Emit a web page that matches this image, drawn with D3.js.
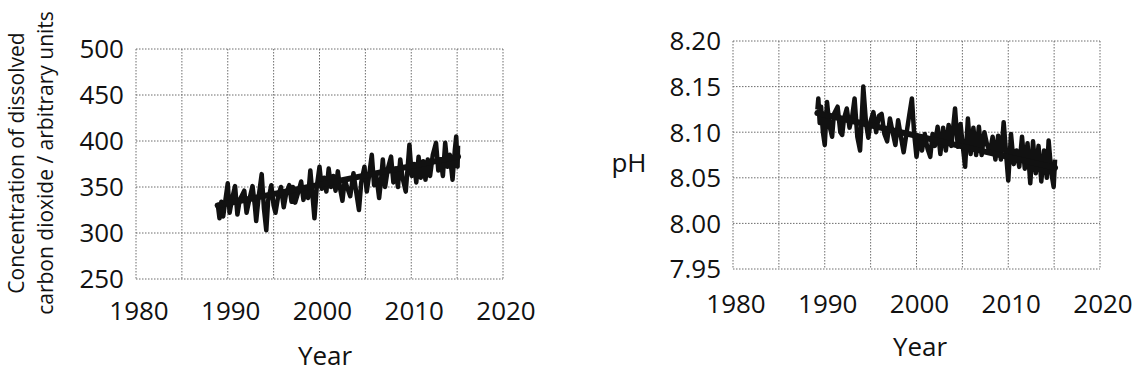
<!DOCTYPE html>
<html>
<head>
<meta charset="utf-8">
<script src="https://cdn.jsdelivr.net/npm/d3@7"></script>
<style>
  html, body { margin: 0; padding: 0; background: #fff; }
  svg text { font-family: "Open Sans", "Noto Sans", sans-serif; fill: #111; }
</style>
</head>
<body>
<svg id="chart" width="1142" height="383"></svg>
<script>
// Dissolved CO2 measurements (year, arbitrary units)
const co2Years = [1988.9,1989.1,1989.3,1989.5,1989.75,1990.0,1990.2,1990.45,1990.8,1991.05,1991.3,1991.8,1992.05,1992.3,1992.7,1992.95,1993.1,1993.35,1993.7,1993.95,1994.2,1994.4,1994.75,1995.0,1995.2,1995.5,1995.8,1996.1,1996.35,1996.7,1996.95,1997.1,1997.35,1997.7,1998.0,1998.25,1998.5,1998.75,1999.0,1999.2,1999.45,1999.7,2000.0,2000.25,2000.5,2000.75,2001.0,2001.25,2001.5,2001.75,2002.0,2002.25,2002.5,2002.75,2003.0,2003.35,2003.7,2003.95,2004.3,2004.55,2004.9,2005.15,2005.4,2005.7,2005.95,2006.2,2006.5,2006.75,2006.9,2007.15,2007.45,2007.8,2008.05,2008.3,2008.55,2008.8,2009.05,2009.4,2009.6,2009.8,2010.05,2010.3,2010.55,2010.8,2011.05,2011.3,2011.55,2011.8,2012.05,2012.35,2012.7,2012.95,2013.2,2013.45,2013.7,2013.95,2014.2,2014.5,2014.75,2014.9,2015.05,2015.1];
const co2Values = [332,316,334,318,336,354,322,336,351,320,336,346,322,334,351,330,313,338,364,326,303,335,352,330,322,340,350,328,342,352,334,350,333,345,356,336,348,338,368,345,316,350,372,348,360,345,370,350,362,346,367,348,335,358,350,340,365,348,325,355,372,345,362,385,352,362,338,362,380,350,370,383,355,370,350,380,360,345,370,396,362,375,355,383,360,378,358,380,362,385,398,368,380,362,398,372,385,358,390,405,372,395];
// Fitted trend of dissolved CO2 (start and end of the record)
const co2TrendYears = [1988.9, 2015.1];
const co2TrendValues = [330, 383];

// Seawater pH measurements
const phYears = [1989.2,1989.3,1989.45,1989.6,1989.8,1990.0,1990.25,1990.5,1990.8,1991.0,1991.4,1991.7,1991.9,1992.1,1992.4,1992.7,1993.0,1993.25,1993.55,1993.85,1994.2,1994.5,1994.75,1995.0,1995.3,1995.6,1995.9,1996.2,1996.5,1996.8,1997.1,1997.4,1997.7,1998.0,1998.3,1998.6,1998.9,1999.2,1999.5,1999.75,2000.0,2000.3,2000.6,2000.9,2001.2,2001.5,2001.75,2002.0,2002.3,2002.6,2002.9,2003.2,2003.5,2003.8,2004.2,2004.5,2004.8,2005.1,2005.3,2005.6,2005.9,2006.2,2006.5,2006.8,2007.1,2007.4,2007.7,2008.0,2008.3,2008.6,2008.9,2009.2,2009.5,2009.8,2010.0,2010.3,2010.6,2010.9,2011.2,2011.5,2011.8,2012.1,2012.4,2012.7,2013.0,2013.3,2013.6,2013.9,2014.2,2014.4,2014.7,2014.95,2015.1];
const phValues = [8.125,8.137,8.110,8.128,8.100,8.086,8.133,8.108,8.095,8.120,8.128,8.100,8.097,8.115,8.126,8.105,8.118,8.137,8.095,8.080,8.150,8.110,8.094,8.112,8.122,8.100,8.118,8.120,8.098,8.090,8.115,8.100,8.086,8.113,8.095,8.078,8.098,8.118,8.137,8.098,8.073,8.095,8.080,8.098,8.082,8.073,8.098,8.085,8.106,8.076,8.105,8.080,8.108,8.085,8.126,8.084,8.109,8.080,8.062,8.115,8.076,8.105,8.075,8.106,8.075,8.100,8.086,8.078,8.095,8.070,8.096,8.070,8.111,8.072,8.047,8.098,8.065,8.080,8.062,8.095,8.060,8.088,8.044,8.090,8.055,8.085,8.046,8.080,8.050,8.091,8.055,8.040,8.070];
const phTrendYears = [1989.2, 2015.1];
const phTrendValues = [8.121, 8.061];

// Axis ticks
const yearLabels = [1980, 1990, 2000, 2010, 2020];
const yearGrid = [1980, 1985, 1990, 1995, 2000, 2005, 2010, 2015, 2020];
const co2Ticks = [250, 300, 350, 400, 450, 500];
const phTicks = [7.95, 8.00, 8.05, 8.10, 8.15, 8.20];

const svg = d3.select("#chart");
svg.append("rect").attr("width", 1142).attr("height", 383).attr("fill", "#fff");

function panel(opt) {
  const x = d3.scaleLinear().domain([1980, 2020]).range([opt.left, opt.right]);
  const y = d3.scaleLinear().domain(opt.yDomain).range([opt.bottom, opt.top]);
  const g = svg.append("g");

  // dotted grid and frame
  const grid = g.append("g")
    .attr("stroke", "#6d6d6d")
    .attr("stroke-width", 1)
    .attr("stroke-dasharray", "1.5,1.5")
    .attr("fill", "none");
  grid.selectAll("line.v").data(yearGrid).join("line")
    .attr("x1", d => x(d)).attr("x2", d => x(d))
    .attr("y1", opt.top).attr("y2", opt.bottom);
  grid.selectAll("line.h").data(opt.ticks).join("line")
    .attr("class", "h")
    .attr("x1", opt.left).attr("x2", opt.right)
    .attr("y1", d => y(d)).attr("y2", d => y(d));

  // x tick labels
  g.append("g").selectAll("text").data(yearLabels).join("text")
    .attr("x", d => x(d) + 3)
    .attr("y", opt.xLabelY)
    .attr("text-anchor", "middle")
    .attr("font-size", 26)
    .text(d => d);

  // y tick labels
  g.append("g").selectAll("text").data(opt.ticks).join("text")
    .attr("x", opt.left - 12)
    .attr("y", d => y(d))
    .attr("dy", "0.36em")
    .attr("text-anchor", "end")
    .attr("font-size", 26)
    .text(opt.fmt);

  // measurement series
  const line = d3.line().x(d => x(d[0])).y(d => y(d[1]));
  g.append("path")
    .datum(d3.zip(opt.xs, opt.ys))
    .attr("d", line)
    .attr("fill", "none")
    .attr("stroke", "#111")
    .attr("stroke-width", 4.5)
    .attr("stroke-linejoin", "round");

  // trend line
  g.append("path")
    .datum(d3.zip(opt.txs, opt.tys))
    .attr("d", line)
    .attr("fill", "none")
    .attr("stroke", "#111")
    .attr("stroke-width", 6)
    .attr("stroke-linecap", "round");

  // x axis title
  g.append("text")
    .attr("x", opt.yearX)
    .attr("y", opt.yearY)
    .attr("text-anchor", "middle")
    .attr("font-size", 26)
    .text("Year");
  return { x, y, g };
}

panel({
  left: 136, right: 503, top: 49, bottom: 279,
  yDomain: [250, 500], ticks: co2Ticks, fmt: d => d,
  xs: co2Years, ys: co2Values, txs: co2TrendYears, tys: co2TrendValues,
  xLabelY: 320, yearX: 325, yearY: 365
});

panel({
  left: 733, right: 1100, top: 41, bottom: 269,
  yDomain: [7.95, 8.20], ticks: phTicks, fmt: d3.format(".2f"),
  xs: phYears, ys: phValues, txs: phTrendYears, tys: phTrendValues,
  xLabelY: 313, yearX: 920, yearY: 356
});

// y axis titles
const co2Title = svg.append("text")
  .attr("transform", "translate(24,163) rotate(-90)")
  .attr("text-anchor", "middle")
  .attr("font-size", 21);
co2Title.append("tspan").attr("x", 0).attr("dy", 0).text("Concentration of dissolved");
co2Title.append("tspan").attr("x", 0).attr("dy", 29).text("carbon dioxide / arbitrary units");

svg.append("text")
  .attr("x", 629).attr("y", 172)
  .attr("text-anchor", "middle")
  .attr("font-size", 26)
  .text("pH");
</script>
</body>
</html>
